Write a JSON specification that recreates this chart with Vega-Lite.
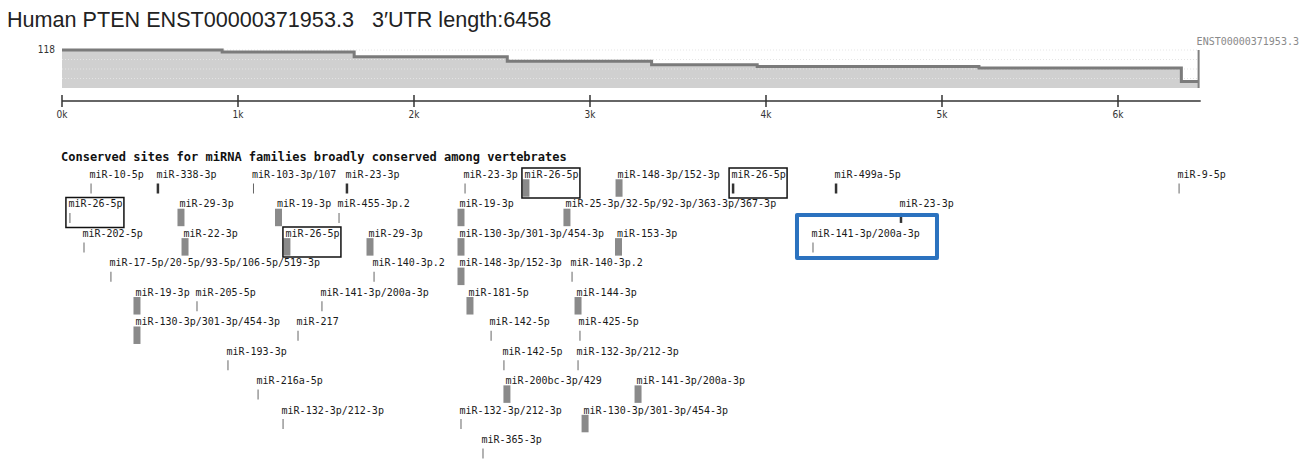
{
  "$schema": "https://vega.github.io/schema/vega-lite/v6.json",
  "width": 1314,
  "height": 426,
  "autosize": {"type": "none"},
  "padding": {"top": 34, "left": 0, "right": 0, "bottom": 0},
  "background": "white",
  "title": {
    "text": "Human PTEN ENST00000371953.3\u00a0\u00a0\u00a03′UTR length:6458",
    "anchor": "start",
    "frame": "group",
    "font": "Liberation Sans",
    "fontSize": 21.6,
    "fontWeight": "normal",
    "color": "#222222",
    "offset": 2,
    "dx": 7
  },
  "config": {"view": {"stroke": null}},
  "datasets": {
    "profile": [
      {"pos": 0, "cons": 118},
      {"pos": 910, "cons": 112},
      {"pos": 1660, "cons": 97},
      {"pos": 2530, "cons": 83},
      {"pos": 3350, "cons": 72},
      {"pos": 3950, "cons": 67},
      {"pos": 5210, "cons": 62},
      {"pos": 6360, "cons": 20},
      {"pos": 6458, "cons": 20}
    ],
    "grid": [{"level": 118}, {"level": 88.5}, {"level": 59}, {"level": 29.5}],
    "transcript": [{"id": "ENST00000371953.3", "length": 6458}],
    "ticks": [
      {"pos": 0, "lab": "0k"}, {"pos": 1000, "lab": "1k"}, {"pos": 2000, "lab": "2k"},
      {"pos": 3000, "lab": "3k"}, {"pos": 4000, "lab": "4k"}, {"pos": 5000, "lab": "5k"},
      {"pos": 6000, "lab": "6k"}
    ],
    "heading": [{"heading": "Conserved sites for miRNA families broadly conserved among vertebrates"}],
    "sites": [
      {"mir": "miR-10-5p", "pos": 165, "row": 0, "type": "7mer-1a"},
      {"mir": "miR-338-3p", "pos": 545, "row": 0, "type": "7mer-m8"},
      {"mir": "miR-103-3p/107", "pos": 1088, "row": 0, "type": "7mer-1a"},
      {"mir": "miR-23-3p", "pos": 1619, "row": 0, "type": "7mer-m8"},
      {"mir": "miR-23-3p", "pos": 2290, "row": 0, "type": "7mer-1a"},
      {"mir": "miR-26-5p", "pos": 2636, "row": 0, "type": "8mer"},
      {"mir": "miR-148-3p/152-3p", "pos": 3165, "row": 0, "type": "8mer"},
      {"mir": "miR-26-5p", "pos": 3813, "row": 0, "type": "7mer-m8"},
      {"mir": "miR-499a-5p", "pos": 4398, "row": 0, "type": "7mer-m8"},
      {"mir": "miR-9-5p", "pos": 6347, "row": 0, "type": "7mer-1a"},
      {"mir": "miR-26-5p", "pos": 45, "row": 1, "type": "7mer-1a"},
      {"mir": "miR-29-3p", "pos": 676, "row": 1, "type": "8mer"},
      {"mir": "miR-19-3p", "pos": 1230, "row": 1, "type": "8mer"},
      {"mir": "miR-455-3p.2", "pos": 1574, "row": 1, "type": "7mer-1a"},
      {"mir": "miR-19-3p", "pos": 2267, "row": 1, "type": "8mer"},
      {"mir": "miR-25-3p/32-5p/92-3p/363-3p/367-3p", "pos": 2869, "row": 1, "type": "8mer"},
      {"mir": "miR-23-3p", "pos": 4767, "row": 1, "type": "7mer-m8"},
      {"mir": "miR-202-5p", "pos": 125, "row": 2, "type": "7mer-1a"},
      {"mir": "miR-22-3p", "pos": 699, "row": 2, "type": "8mer"},
      {"mir": "miR-26-5p", "pos": 1278, "row": 2, "type": "8mer"},
      {"mir": "miR-29-3p", "pos": 1750, "row": 2, "type": "8mer"},
      {"mir": "miR-130-3p/301-3p/454-3p", "pos": 2267, "row": 2, "type": "8mer"},
      {"mir": "miR-153-3p", "pos": 3162, "row": 2, "type": "8mer"},
      {"mir": "miR-141-3p/200a-3p", "pos": 4267, "row": 2, "type": "7mer-1a"},
      {"mir": "miR-17-5p/20-5p/93-5p/106-5p/519-3p", "pos": 278, "row": 3, "type": "7mer-1a"},
      {"mir": "miR-140-3p.2", "pos": 1773, "row": 3, "type": "7mer-1a"},
      {"mir": "miR-148-3p/152-3p", "pos": 2267, "row": 3, "type": "8mer"},
      {"mir": "miR-140-3p.2", "pos": 2898, "row": 3, "type": "7mer-1a"},
      {"mir": "miR-19-3p", "pos": 426, "row": 4, "type": "8mer"},
      {"mir": "miR-205-5p", "pos": 767, "row": 4, "type": "7mer-1a"},
      {"mir": "miR-141-3p/200a-3p", "pos": 1477, "row": 4, "type": "7mer-1a"},
      {"mir": "miR-181-5p", "pos": 2318, "row": 4, "type": "8mer"},
      {"mir": "miR-144-3p", "pos": 2932, "row": 4, "type": "8mer"},
      {"mir": "miR-130-3p/301-3p/454-3p", "pos": 426, "row": 5, "type": "8mer"},
      {"mir": "miR-217", "pos": 1341, "row": 5, "type": "7mer-1a"},
      {"mir": "miR-142-5p", "pos": 2438, "row": 5, "type": "7mer-1a"},
      {"mir": "miR-425-5p", "pos": 2943, "row": 5, "type": "7mer-1a"},
      {"mir": "miR-193-3p", "pos": 943, "row": 6, "type": "7mer-1a"},
      {"mir": "miR-142-5p", "pos": 2511, "row": 6, "type": "7mer-1a"},
      {"mir": "miR-132-3p/212-3p", "pos": 2932, "row": 6, "type": "7mer-1a"},
      {"mir": "miR-216a-5p", "pos": 1114, "row": 7, "type": "7mer-1a"},
      {"mir": "miR-200bc-3p/429", "pos": 2528, "row": 7, "type": "8mer"},
      {"mir": "miR-141-3p/200a-3p", "pos": 3273, "row": 7, "type": "8mer"},
      {"mir": "miR-132-3p/212-3p", "pos": 1256, "row": 8, "type": "7mer-1a"},
      {"mir": "miR-132-3p/212-3p", "pos": 2267, "row": 8, "type": "7mer-1a"},
      {"mir": "miR-130-3p/301-3p/454-3p", "pos": 2972, "row": 8, "type": "8mer"},
      {"mir": "miR-365-3p", "pos": 2392, "row": 9, "type": "7mer-1a"}
    ]
  },
  "resolve": {"scale": {"y": "independent"}},
  "layer": [
    {
      "layer": [
        {
          "data": {"name": "profile"},
          "mark": {"type": "area", "interpolate": "step-after", "color": "#d0d0d0"},
          "encoding": {
            "x": {"field": "pos", "type": "quantitative", "scale": {"domain": [-352.27, 7113.64], "nice": false, "zero": false}, "axis": null},
            "y": {"field": "cons", "type": "quantitative",
                  "scale": {"domain": [0, 118], "range": [54, 16], "nice": false, "zero": false},
                  "axis": null},
            "y2": {"datum": 0}
          }
        },
        {
          "data": {"name": "grid"},
          "mark": {"type": "rule", "color": "#e4e4e4", "strokeDash": [1, 2], "strokeWidth": 1},
          "encoding": {
            "x": {"datum": 0, "type": "quantitative", "scale": {"domain": [-352.27, 7113.64], "nice": false, "zero": false}, "axis": null},
            "x2": {"datum": 6458},
            "y": {"field": "level", "type": "quantitative", "axis": null}
          }
        },
        {
          "data": {"name": "profile"},
          "mark": {"type": "line", "interpolate": "step-after", "color": "#7b7b7b", "strokeWidth": 3},
          "encoding": {
            "x": {"field": "pos", "type": "quantitative", "scale": {"domain": [-352.27, 7113.64], "nice": false, "zero": false}, "axis": null},
            "y": {"field": "cons", "type": "quantitative", "axis": null}
          }
        },
        {
          "data": {"name": "profile"},
          "transform": [{"filter": "datum.pos === 0"}],
          "mark": {"type": "text", "align": "right", "baseline": "middle", "dx": -7, "font": "DejaVu Sans Condensed", "fontSize": 10, "color": "#333333"},
          "encoding": {
            "x": {"field": "pos", "type": "quantitative", "scale": {"domain": [-352.27, 7113.64], "nice": false, "zero": false}, "axis": null},
            "y": {"field": "cons", "type": "quantitative", "axis": null},
            "text": {"field": "cons", "type": "quantitative"}
          }
        },
        {
          "data": {"name": "transcript"},
          "mark": {"type": "rule", "color": "#808080", "strokeWidth": 2},
          "encoding": {
            "x": {"field": "length", "type": "quantitative", "scale": {"domain": [-352.27, 7113.64], "nice": false, "zero": false}, "axis": null},
            "y": {"datum": 0, "type": "quantitative", "axis": null},
            "y2": {"datum": 118}
          }
        },
        {
          "data": {"name": "transcript"},
          "mark": {"type": "text", "align": "left", "baseline": "middle", "dx": -2, "dy": -8, "font": "DejaVu Sans Mono", "fontSize": 10, "color": "#8a8a8a"},
          "encoding": {
            "x": {"field": "length", "type": "quantitative", "scale": {"domain": [-352.27, 7113.64], "nice": false, "zero": false}, "axis": null},
            "y": {"datum": 118, "type": "quantitative", "axis": null},
            "text": {"field": "id"}
          }
        },
        {
          "data": {"name": "transcript"},
          "mark": {"type": "rule", "color": "#333333", "strokeWidth": 1.5},
          "encoding": {
            "x": {"datum": 0, "type": "quantitative", "scale": {"domain": [-352.27, 7113.64], "nice": false, "zero": false}, "axis": null},
            "x2": {"datum": 6470},
            "y": {"datum": -40.4, "type": "quantitative", "axis": null}
          }
        },
        {
          "data": {"name": "ticks"},
          "mark": {"type": "rule", "color": "#333333", "strokeWidth": 1.5},
          "encoding": {
            "x": {"field": "pos", "type": "quantitative", "scale": {"domain": [-352.27, 7113.64], "nice": false, "zero": false}, "axis": null},
            "y": {"datum": -21.7, "type": "quantitative", "axis": null},
            "y2": {"datum": -59}
          }
        },
        {
          "data": {"name": "ticks"},
          "mark": {"type": "text", "align": "center", "baseline": "middle", "font": "DejaVu Sans Condensed", "fontSize": 10, "color": "#333333"},
          "encoding": {
            "x": {"field": "pos", "type": "quantitative", "scale": {"domain": [-352.27, 7113.64], "nice": false, "zero": false}, "axis": null},
            "y": {"datum": -83.8, "type": "quantitative", "axis": null},
            "text": {"field": "lab"}
          }
        }
      ]
    },
    {
      "layer": [
        {
          "data": {"name": "heading"},
          "mark": {"type": "text", "align": "left", "baseline": "middle", "dx": -1, "font": "DejaVu Sans Mono", "fontWeight": "bold", "fontSize": 12, "color": "#111111"},
          "encoding": {
            "x": {"datum": 0, "type": "quantitative", "scale": {"domain": [-352.27, 7113.64], "nice": false, "zero": false}, "axis": null},
            "y": {"datum": -0.61, "type": "quantitative", "scale": {"domain": [0, 9], "range": [141, 406], "nice": false, "zero": false}, "axis": null},
            "text": {"field": "heading"}
          }
        },
        {
          "data": {"name": "sites"},
          "mark": {"type": "text", "align": "left", "baseline": "middle", "dx": -1.5, "font": "DejaVu Sans Mono", "fontSize": 10, "color": "#1a1a1a"},
          "encoding": {
            "x": {"field": "pos", "type": "quantitative", "scale": {"domain": [-352.27, 7113.64], "nice": false, "zero": false}, "axis": null},
            "y": {"field": "row", "type": "quantitative", "axis": null},
            "text": {"field": "mir"}
          }
        },
        {
          "data": {"name": "sites"},
          "transform": [{"filter": "datum.type === '8mer'"}],
          "mark": {"type": "tick", "orient": "vertical", "thickness": 7, "size": 17.5, "yOffset": 13, "color": "#8a8a8a", "opacity": 1},
          "encoding": {
            "x": {"field": "pos", "type": "quantitative", "scale": {"domain": [-352.27, 7113.64], "nice": false, "zero": false}, "axis": null},
            "y": {"field": "row", "type": "quantitative", "axis": null}
          }
        },
        {
          "data": {"name": "sites"},
          "transform": [{"filter": "datum.type === '7mer-m8'"}],
          "mark": {"type": "tick", "orient": "vertical", "thickness": 2.5, "size": 10, "yOffset": 13.5, "color": "#333333", "opacity": 1},
          "encoding": {
            "x": {"field": "pos", "type": "quantitative", "scale": {"domain": [-352.27, 7113.64], "nice": false, "zero": false}, "axis": null},
            "y": {"field": "row", "type": "quantitative", "axis": null}
          }
        },
        {
          "data": {"name": "sites"},
          "transform": [{"filter": "datum.type === '7mer-1a'"}],
          "mark": {"type": "tick", "orient": "vertical", "thickness": 1, "size": 10, "yOffset": 13.5, "color": "#666666", "opacity": 1},
          "encoding": {
            "x": {"field": "pos", "type": "quantitative", "scale": {"domain": [-352.27, 7113.64], "nice": false, "zero": false}, "axis": null},
            "y": {"field": "row", "type": "quantitative", "axis": null}
          }
        },
        {
          "data": {"name": "sites"},
          "transform": [{"filter": "datum.mir === 'miR-26-5p'"}],
          "mark": {"type": "point", "shape": "M-1,-0.517H1V0.517H-1Z", "size": 3364, "filled": false, "stroke": "#111111", "strokeWidth": 1.5, "opacity": 1, "xOffset": 25, "yOffset": 8},
          "encoding": {
            "x": {"field": "pos", "type": "quantitative", "scale": {"domain": [-352.27, 7113.64], "nice": false, "zero": false}, "axis": null},
            "y": {"field": "row", "type": "quantitative", "axis": null}
          }
        },
        {
          "data": {"name": "sites"},
          "transform": [{"filter": "datum.mir === 'miR-141-3p/200a-3p' && datum.row === 2"}],
          "mark": {"type": "point", "shape": "M-1,-0.307H1V0.307H-1Z", "size": 19600, "filled": false, "stroke": "#2b72bf", "strokeWidth": 4, "strokeJoin": "round", "opacity": 1, "xOffset": 54, "yOffset": 2.5},
          "encoding": {
            "x": {"field": "pos", "type": "quantitative", "scale": {"domain": [-352.27, 7113.64], "nice": false, "zero": false}, "axis": null},
            "y": {"field": "row", "type": "quantitative", "axis": null}
          }
        }
      ]
    }
  ]
}
